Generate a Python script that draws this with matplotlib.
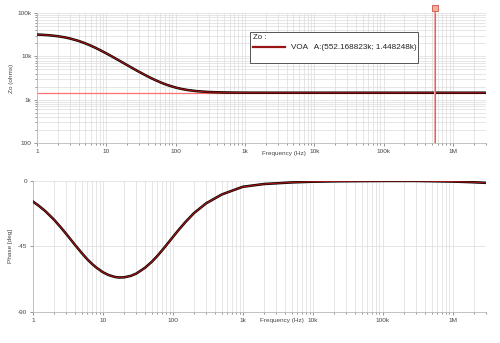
import numpy as np
import matplotlib.pyplot as plt
from matplotlib.ticker import FixedLocator, FixedFormatter, LogLocator, NullFormatter
from matplotlib.patches import Rectangle
import matplotlib.transforms as mtransforms

plt.rcParams['font.family'] = ['Liberation Sans', 'DejaVu Sans']

# частоты (Гц), выходное сопротивление (Ом) и фаза (град)
freq = [1, 1.2, 1.5, 2, 2.5, 3, 4, 5, 6, 7, 8, 10, 12, 15, 17, 20, 25, 30, 40, 50, 60,
        70, 80, 100, 120, 150, 200, 300, 500, 700, 1e3, 2e3, 5e3, 1e4, 2e4, 5e4, 1e5,
        3e5, 1e6, 2e6, 3e6]
zo = [31900, 31450, 30700, 29150, 27510, 25840, 22660, 19900, 17600, 15700, 14130,
      11720, 9988, 8165, 7283, 6277, 5125, 4357, 3415, 2871, 2524, 2289, 2123, 1908,
      1780, 1668, 1576, 1506, 1469, 1459, 1453, 1450, 1448.5, 1448.3, 1448.3, 1448.3,
      1448.3, 1448.3, 1448.3, 1448.3, 1448.3]
phase = [-14.2, -16.9, -20.7, -26.6, -31.9, -36.5, -44.0, -49.6, -53.9, -57.0, -59.4,
         -62.7, -64.6, -66.0, -66.3, -66.2, -65.2, -63.6, -59.6, -55.5, -51.5, -47.7,
         -44.3, -38.5, -33.8, -28.4, -22.1, -15.3, -9.3, -6.7, -4.0, -2.1, -1.0, -0.5,
         -0.25, -0.1, 0.0, 0.0, -0.4, -0.9, -1.3]

cursor_f = 552168.823
cursor_z = 1448.248

x_ticks = [1, 10, 100, 1e3, 1e4, 1e5, 1e6]
x_labels = ['1', '10', '100', '1k', '10k', '100k', '1M']
z_ticks = [100, 1e3, 1e4, 1e5]
z_labels = ['100', '1k', '10k', '100k']
ph_ticks = [0, -45, -90]
ph_labels = ['0', '-45', '-90']

grid_c = '#dcdcdc'
spine_c = '#b8b8b8'
txt_c = '#444444'
curve_c = '#9a1515'
fs = 4.6

fig = plt.figure(figsize=(5.0, 3.43), dpi=100)
ax1 = fig.add_axes([0.074, 0.583, 0.898, 0.379])
ax2 = fig.add_axes([0.066, 0.0904, 0.906, 0.382])


def style(ax):
    ax.set_xscale('log')
    ax.set_xlim(1, 3e6)
    ax.xaxis.set_major_locator(FixedLocator(x_ticks))
    ax.xaxis.set_major_formatter(FixedFormatter(x_labels))
    ax.xaxis.set_minor_locator(LogLocator(base=10, subs=np.arange(2, 10), numticks=20))
    ax.xaxis.set_minor_formatter(NullFormatter())
    ax.grid(True, which='both', axis='x', color=grid_c, lw=0.5)
    for s in ['top', 'right']:
        ax.spines[s].set_visible(False)
    for s in ['left', 'bottom']:
        ax.spines[s].set_color(spine_c)
        ax.spines[s].set_linewidth(0.6)
    ax.tick_params(which='both', labelsize=fs, colors=txt_c, length=2, width=0.4, pad=2)
    ax.tick_params(which='minor', length=1.5)
    ax.set_axisbelow(True)


def curve(ax, y):
    ax.plot(freq, y, color='black', lw=1.8, zorder=3)
    return ax.plot(freq, y, color=curve_c, lw=0.9, zorder=4)[0]


# верхний график: модуль
style(ax1)
ax1.set_yscale('log')
ax1.set_ylim(100, 1e5)
ax1.yaxis.set_major_locator(FixedLocator(z_ticks))
ax1.yaxis.set_major_formatter(FixedFormatter(z_labels))
ax1.yaxis.set_minor_locator(LogLocator(base=10, subs=np.arange(2, 10), numticks=20))
ax1.yaxis.set_minor_formatter(NullFormatter())
ax1.grid(True, which='both', axis='y', color=grid_c, lw=0.5)

ax1.axhline(cursor_z, color='#ff7070', lw=0.9, zorder=2)
curve(ax1, zo)

# курсор A
ax1.axvline(cursor_f, color='#f4a8a8', lw=1.5, zorder=5)
ax1.axvline(cursor_f, color='#d84040', lw=0.5, zorder=6)
trans = mtransforms.blended_transform_factory(ax1.transData, ax1.transAxes)
ax1.plot([cursor_f, cursor_f], [1.0, 1.04], transform=trans, color='#e58080', lw=1.1,
         clip_on=False)
ax1.plot([cursor_f], [1.04], transform=trans, marker='s', ms=4, mfc='#f3b0a0',
         mec='#d05040', mew=0.6, clip_on=False)

ax1.set_ylabel('Zo (ohms)', fontsize=fs, color=txt_c)
ax1.yaxis.set_label_coords(-0.052, 0.5)
ax1.set_xlabel('Frequency (Hz)', fontsize=fs, color=txt_c)
ax1.xaxis.set_label_coords(0.55, -0.065)
ax1.xaxis.label.set_va('top')

# легенда
ax1.add_patch(Rectangle((0.4744, 0.6154), 0.3742, 0.2384, transform=ax1.transAxes,
                        facecolor='white', edgecolor='#555555', lw=0.7, zorder=10))
ax1.text(0.4811, 0.815, 'Zo :', transform=ax1.transAxes, fontsize=5.6, color='#222222',
         va='center', ha='left', zorder=11)
ax1.plot([0.4811, 0.5523], [0.738, 0.738], transform=ax1.transAxes, color=curve_c,
         lw=1.6, zorder=11)
ax1.text(0.5657, 0.738, 'VOA   A:(552.168823k; 1.448248k)', transform=ax1.transAxes,
         fontsize=5.9, color='#222222', va='center', ha='left', zorder=11)

# нижний график: фаза
style(ax2)
ax2.set_ylim(-90, 0)
ax2.yaxis.set_major_locator(FixedLocator(ph_ticks))
ax2.yaxis.set_major_formatter(FixedFormatter(ph_labels))
ax2.grid(True, which='major', axis='y', color=grid_c, lw=0.5)
curve(ax2, phase)

ax2.set_ylabel('Phase [deg]', fontsize=fs, color=txt_c)
ax2.yaxis.set_label_coords(-0.045, 0.5)
ax2.set_xlabel('Frequency (Hz)', fontsize=fs, color=txt_c)
ax2.xaxis.set_label_coords(0.55, -0.045)
ax2.xaxis.label.set_va('top')

plt.savefig('out.png', dpi=100)
